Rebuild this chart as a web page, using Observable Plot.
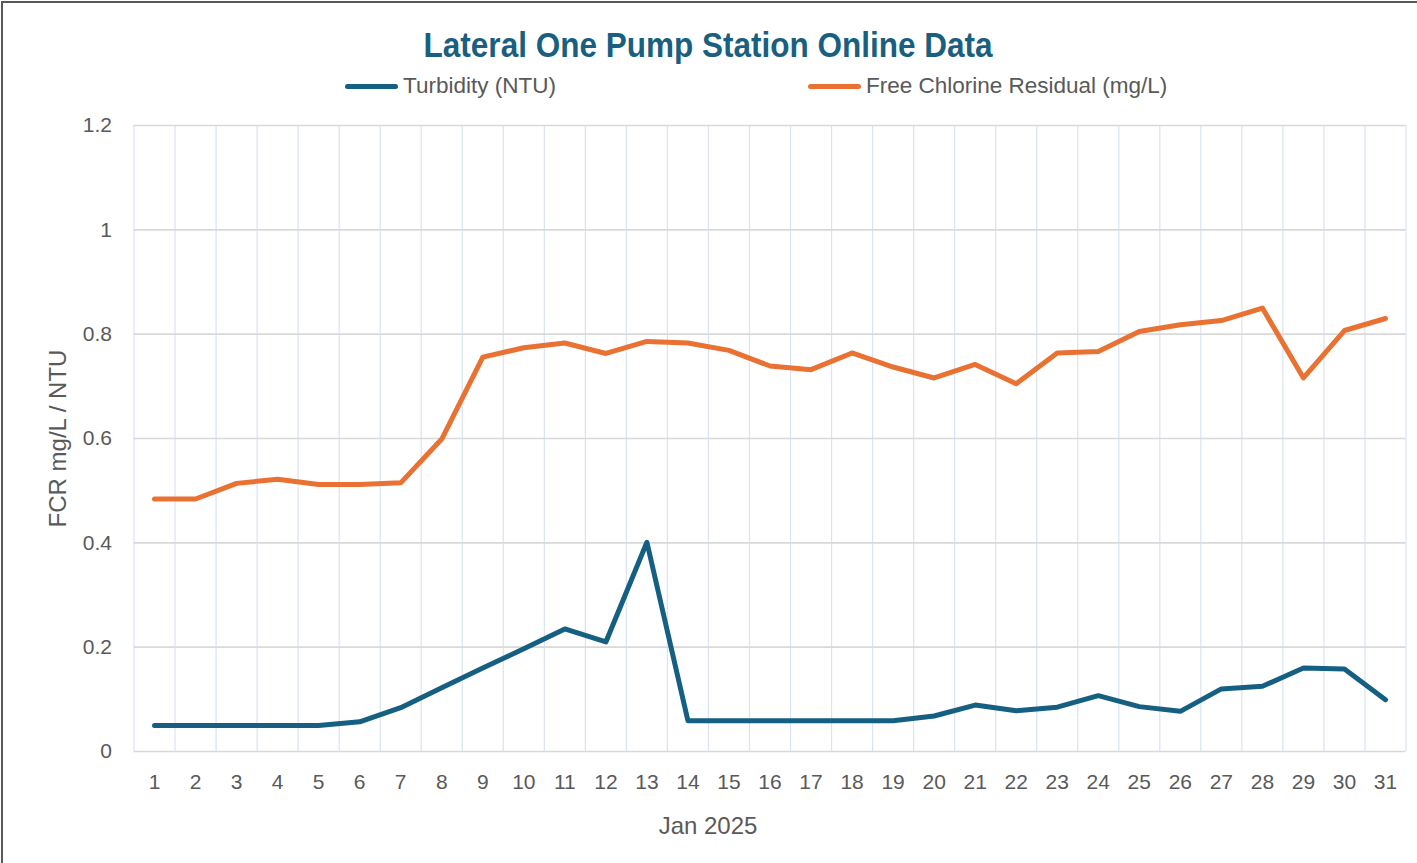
<!DOCTYPE html>
<html><head><meta charset="utf-8">
<script src="https://cdn.jsdelivr.net/npm/d3@7"></script>
<script src="https://cdn.jsdelivr.net/npm/@observablehq/plot@0.6"></script>
<style>
html,body{margin:0;padding:0;background:#fff;}
#chart{position:relative;width:1417px;height:863px;overflow:hidden;font-family:"Liberation Sans",Arial,sans-serif;background:#fff;}
#frame{position:absolute;left:1px;top:1px;width:1430px;height:880px;border-top:2px solid #595959;border-left:2px solid #595959;pointer-events:none;}
#header{position:relative;height:100px;}
#titlebox{position:absolute;left:0;width:1417px;top:24px;text-align:center;line-height:42px;}
#title{display:inline-block;font-weight:bold;font-size:35px;color:#1a5f80;transform:scaleX(0.9);transform-origin:center;}
.leg{position:absolute;top:74px;height:24px;display:flex;align-items:center;font-size:22.5px;color:#595959;white-space:nowrap;}
.sw{width:53px;height:5px;border-radius:3px;margin-right:5px;}
#plot svg{display:block;}
</style></head>
<body><div id="chart"><div id="header"><div id="titlebox"><span id="title"></span></div><div id="legend"></div></div><div id="plot"></div><div id="frame"></div></div>
<script>
const days = [1,2,3,4,5,6,7,8,9,10,11,12,13,14,15,16,17,18,19,20,21,22,23,24,25,26,27,28,29,30,31];
const turbidity = [0.05,0.05,0.05,0.05,0.05,0.057,0.084,0.122,0.16,0.197,0.235,0.21,0.401,0.059,0.059,0.059,0.059,0.059,0.059,0.068,0.089,0.078,0.085,0.107,0.086,0.077,0.12,0.125,0.16,0.158,0.099];
const fcr = [0.484,0.484,0.514,0.522,0.512,0.512,0.515,0.599,0.756,0.774,0.783,0.763,0.786,0.783,0.769,0.739,0.732,0.764,0.737,0.716,0.742,0.705,0.764,0.767,0.805,0.818,0.826,0.85,0.716,0.807,0.83];
const seriesNames = ["Turbidity (NTU)", "Free Chlorine Residual (mg/L)"];
const seriesColors = ["#156082", "#E97132"];
const legendLeft = [345, 808];
const yTicks = [0, 0.2, 0.4, 0.6, 0.8, 1, 1.2];
const titleText = "Lateral One Pump Station Online Data";
const xLabel = "Jan 2025";
const yLabel = "FCR mg/L / NTU";

document.getElementById("title").textContent = titleText;
const legend = document.getElementById("legend");
seriesNames.forEach((name, i) => {
  const item = document.createElement("div");
  item.className = "leg";
  item.style.left = legendLeft[i] + "px";
  const sw = document.createElement("div");
  sw.className = "sw";
  sw.style.background = seriesColors[i];
  const tx = document.createElement("span");
  tx.textContent = name;
  item.appendChild(sw); item.appendChild(tx);
  legend.appendChild(item);
});

const rows = [];
days.forEach((d, i) => {
  rows.push({day: d, value: turbidity[i], series: seriesNames[0]});
});
days.forEach((d, i) => {
  rows.push({day: d, value: fcr[i], series: seriesNames[1]});
});
const boundaries = days.map(d => d - 0.5).concat([days[days.length - 1] + 0.5]);

const plot = Plot.plot({
  width: 1417, height: 763,
  marginLeft: 133.5, marginRight: 11.5, marginTop: 25, marginBottom: 112,
  x: {domain: [0.5, 31.5], ticks: days, tickFormat: d => String(d), tickSize: 0, tickPadding: 23, label: null},
  y: {domain: [0, 1.2], ticks: yTicks, tickFormat: d => String(+d.toFixed(1)), tickSize: 0, tickPadding: 22, label: null},
  color: {domain: seriesNames, range: seriesColors},
  style: {fontFamily: '"Liberation Sans", Arial, sans-serif', fontSize: "21px", color: "#595959", background: "transparent"},
  marks: [
    Plot.ruleX(boundaries, {stroke: "#dae3f3", strokeWidth: 1.2}),
    Plot.ruleY(yTicks, {stroke: "#d9d9d9", strokeWidth: 1.6}),
    Plot.line(rows, {x: "day", y: "value", z: "series", stroke: "series", strokeWidth: 5, strokeLinecap: "round", strokeLinejoin: "round"}),
    Plot.text([yLabel], {frameAnchor: "left", textAnchor: "middle", lineAnchor: "middle", rotate: -90, dx: -76, fontSize: 24, fill: "#595959"}),
    Plot.text([xLabel], {frameAnchor: "bottom", textAnchor: "middle", lineAnchor: "middle", dx: -62, dy: 75, fontSize: 24, fill: "#595959"})
  ]
});
document.getElementById("plot").appendChild(plot);
</script>
</body></html>
